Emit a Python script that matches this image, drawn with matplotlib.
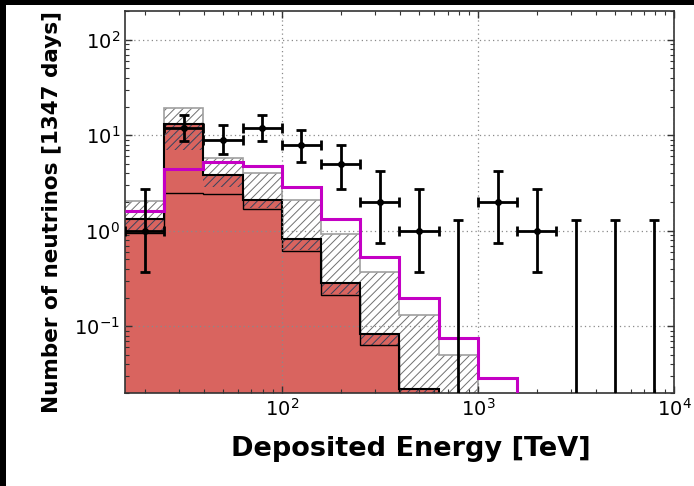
import numpy as np
import matplotlib
matplotlib.use("Agg")
import matplotlib.pyplot as plt
from matplotlib.patches import Rectangle

plt.rcParams["axes.unicode_minus"] = False
plt.rcParams["hatch.linewidth"] = 0.7

# bin edges in deposited energy (TeV), 0.2 decade bins
edges = [15.85, 25.12, 39.81, 63.10, 100.0, 158.5, 251.2, 398.1,
         631.0, 1000.0, 1585.0, 2512.0, 3981.0, 6310.0, 10000.0]

# background model (stacked)
gray_top = [2.05, 19.2, 5.8, 4.0, 2.09, 0.92, 0.366, 0.132, 0.050, 0.015, 0.005, 0.002, 0.001, 0.0005]
total_bkg = [1.32, 13.1, 3.8, 2.11, 0.82, 0.285, 0.083, 0.022, 0.008, 0.003, 0.001, 0.0005, 0.0002, 0.0001]
muon = [1.0, 7.0, 2.9, 1.75, 0.63, 0.217, 0.064, 0.010, 0.003, 0.001, 0.0004, 0.0002, 0.0001, 0.0001]
muon_line = [0.95, 2.5, 2.45, 1.68, 0.62, 0.215, 0.063, 0.010, 0.003, 0.001, 0.0004, 0.0002, 0.0001, 0.0001]
astro = [1.6, 4.4, 5.3, 4.75, 2.89, 1.33, 0.535, 0.20, 0.0755, 0.0286, 0.011, 0.004, 0.0015, 0.0006]

# observed events with asymmetric errors
counts = [1, 12, 9, 12, 8, 5, 2, 1, 0, 2, 1, 0, 0, 0]
err_low = [0.63, 3.3, 2.65, 3.3, 2.7, 2.27, 1.26, 0.63, 0, 1.26, 0.63, 0, 0, 0]
err_high = [1.75, 4.3, 3.8, 4.3, 3.3, 2.9, 2.24, 1.75, 1.29, 2.24, 1.75, 1.29, 1.29, 1.29]

red = "#d9645f"

fig = plt.figure(figsize=(6.94, 4.86), dpi=100)
fig.patch.set_facecolor("black")
fig.add_artist(Rectangle((6 / 694, 0), 1, 1 - 5 / 486, transform=fig.transFigure,
                         facecolor="white", edgecolor="none", zorder=-10))
ax = fig.add_axes([125 / 694, 1 - 393 / 486, 549 / 694, 382 / 486])

edges = np.array(edges)
base = 1e-4

# gray uncertainty band
ax.stairs(gray_top, edges, baseline=base, fill=True, facecolor="white",
          edgecolor="#707070", hatch="////", linewidth=0)
ax.stairs(gray_top, edges, baseline=None, color="#a0a0a0", linewidth=1.2)
# atmospheric neutrinos on top of muons
ax.stairs(total_bkg, edges, baseline=base, fill=True, facecolor=red,
          edgecolor="#34435e", hatch="////", linewidth=0)
# muons
ax.stairs(muon, edges, baseline=base, fill=True, facecolor=red, linewidth=0)
ax.stairs(total_bkg, edges, baseline=None, color="black", linewidth=1.5)
ax.stairs(muon_line, edges, baseline=None, color="black", linewidth=1.0)
# astrophysical
ax.stairs(astro, edges, baseline=None, color="#c400c4", linewidth=2.2, zorder=2.6)

# data
counts = np.array(counts, dtype=float)
centers = np.sqrt(edges[:-1] * edges[1:])
xlo = centers - edges[:-1]
xhi = edges[1:] - centers
nz = counts > 0
ax.errorbar(centers[nz], counts[nz],
            xerr=[xlo[nz], xhi[nz]],
            yerr=[np.array(err_low)[nz], np.array(err_high)[nz]],
            fmt="o", color="black", markersize=4, elinewidth=2, capsize=3.5,
            capthick=2, zorder=3)
z = ~nz
ax.errorbar(centers[z], np.full(z.sum(), base),
            yerr=[np.zeros(z.sum()), np.array(err_high)[z]],
            fmt="none", ecolor="black", elinewidth=2, capsize=3.5,
            capthick=2, zorder=3)

ax.set_xscale("log")
ax.set_yscale("log")
ax.set_xlim(edges[0], edges[-1])
ax.set_ylim(0.02, 200)
ax.grid(True, which="major", linestyle=(0, (1, 2.5)), color="#8a8a8a", linewidth=0.9)
ax.set_axisbelow(False)
ax.tick_params(which="both", direction="in", top=True, right=True,
               colors="#333333", labelcolor="black", labelsize=14)
ax.tick_params(which="major", length=5, width=1)
ax.tick_params(which="minor", length=3, width=0.8)
for s in ax.spines.values():
    s.set_color("#333333")
    s.set_linewidth(1.2)

ax.set_xlabel("Deposited Energy [TeV]", fontsize=19.5, fontweight="bold")
ax.set_ylabel("Number of neutrinos [1347 days]", fontsize=15.5, fontweight="bold")
ax.xaxis.set_label_coords(0.521, -0.112)
ax.yaxis.set_label_coords(-0.115, 0.474)

fig.savefig("out.png", dpi=100, facecolor=fig.get_facecolor())
